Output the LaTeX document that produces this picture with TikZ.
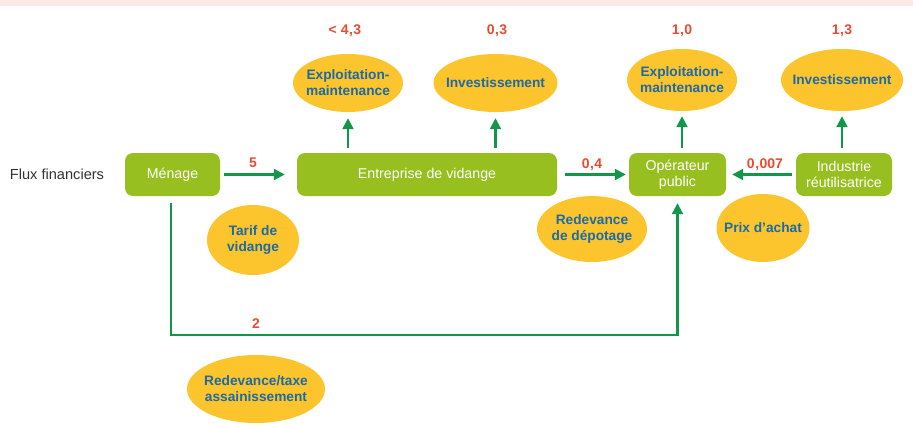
\documentclass[tikz,border=0pt]{standalone}
\usepackage{fontspec}
\setmainfont{Liberation Sans}
\usetikzlibrary{shapes.geometric,arrows.meta,calc}
\definecolor{boxgreen}{HTML}{97BF1F}
\definecolor{ellyellow}{HTML}{FCC42D}
\definecolor{textblue}{HTML}{1D6AA5}
\definecolor{arrgreen}{HTML}{12974A}
\definecolor{labred}{HTML}{E84B2E}
\definecolor{band}{HTML}{FCE8E7}
\definecolor{darkgray}{HTML}{333333}
\begin{document}
\begin{tikzpicture}[x=1pt,y=-1pt,
  box/.style={rectangle, rounded corners=8pt, fill=boxgreen, text=white, minimum height=43pt, inner sep=0pt, align=center, font=\fontsize{14.2}{16}\selectfont},
  ell/.style={ellipse, fill=ellyellow, text=textblue, inner ysep=0pt, inner xsep=-14pt, align=center, font=\bfseries\fontsize{13.7}{16}\selectfont},
  lab/.style={text=labred, font=\bfseries\fontsize{14}{16}\selectfont, inner sep=0pt},
  arr/.style={draw=arrgreen, line width=2.2pt, -{Triangle[length=11pt,width=11pt]}}
]
\useasboundingbox (0,0) rectangle (913,426);
\fill[band] (0,0) rectangle (913,6);

\node[text=darkgray, font=\fontsize{14.6}{16}\selectfont, inner sep=0pt] (flux) at (57,174) {Flux financiers};

\node[box, minimum width=95pt] (menage) at (172.5,174.5) {Ménage};
\node[box, minimum width=260pt] (entr) at (427,174.5) {Entreprise de vidange};
\node[box, minimum width=97pt] (op) at (677.5,174.5) {Opérateur\\public};
\node[box, minimum width=96pt] (ind) at (844,174.5) {Industrie\\réutilisatrice};

\node[ell, minimum width=110pt, minimum height=58pt] (em1) at (348,83) {Exploitation-\\maintenance};
\node[ell, minimum width=124pt, minimum height=58pt] (inv1) at (495.5,83) {Investissement};
\node[ell, minimum width=110pt, minimum height=62pt] (em2) at (682,80) {Exploitation-\\maintenance};
\node[ell, minimum width=122pt, minimum height=62pt] (inv2) at (842,80) {Investissement};

\node[ell, minimum width=92pt, minimum height=70pt] (tarif) at (253,240) {Tarif de\\vidange};
\node[ell, minimum width=110pt, minimum height=66pt] (redep) at (592,229) {Redevance\\de dépotage};
\node[ell, minimum width=93pt, minimum height=68pt] (prix) at (763,228) {Prix d’achat};
\node[ell, minimum width=138pt, minimum height=68pt] (retax) at (256,389) {Redevance/taxe\\assainissement};

\node[lab] (l43) at (345,31) {< 4\kern0.5pt,\kern0.5pt3};
\node[lab] (l03) at (497,31) {0\kern0.5pt,\kern0.5pt3};
\node[lab] (l10) at (682,31) {1\kern0.5pt,\kern0.5pt0};
\node[lab] (l13) at (842,31) {1\kern0.5pt,\kern0.5pt3};
\node[lab] (l5) at (253,163) {5};
\node[lab] (l04) at (592,165) {0\kern0.5pt,\kern0.5pt4};
\node[lab] (l007) at (765,165) {0\kern0.5pt,\kern0.5pt007};
\node[lab] (l2) at (256,324) {2};

\draw[arr, shorten <=4pt, shorten >=12pt] (menage.east) -- (entr.west);
\draw[arr, shorten <=8pt, shorten >=3pt] (entr.east) -- (op.west);
\draw[arr, shorten <=4pt, shorten >=6pt] (ind.west) -- (op.east);

\draw[arr, shorten <=5pt, shorten >=6pt] (entr.north -| em1) -- (em1.south);
\draw[arr, shorten <=5pt, shorten >=6pt] (entr.north -| inv1) -- (inv1.south);
\draw[arr, shorten <=5pt, shorten >=5pt] (op.north -| em2) -- (em2.south);
\draw[arr, shorten <=5pt, shorten >=5pt] (ind.north -| inv2) -- (inv2.south);

\coordinate (low) at (0,335);
\coordinate (ms) at ([xshift=-1.5pt]menage.south);
\draw[arr, shorten <=7pt, shorten >=7pt] (ms) -- (ms |- low) -- (op.south |- low) -- (op.south);
\end{tikzpicture}
\end{document}
